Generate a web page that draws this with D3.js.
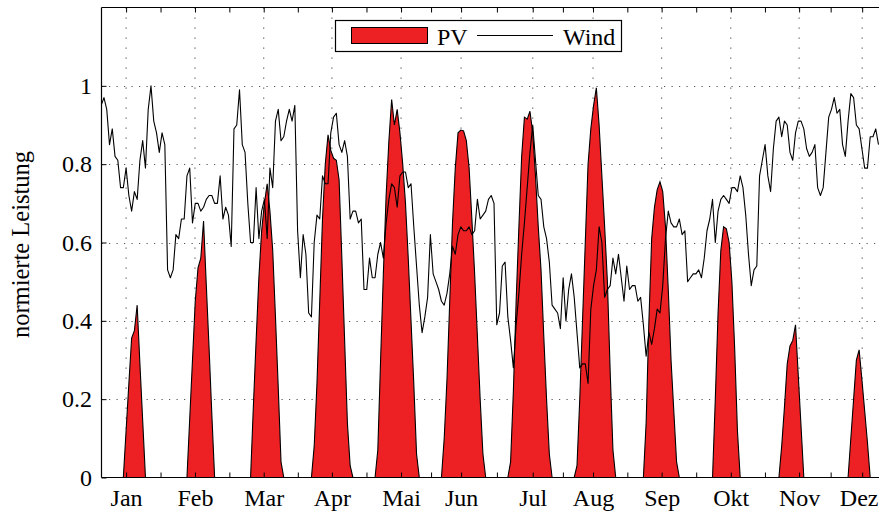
<!DOCTYPE html>
<html><head><meta charset="utf-8">
<script src="https://cdn.jsdelivr.net/npm/d3@7"></script>
<style>
body{margin:0;background:#fff;}
svg{display:block;}
text{font-family:"Liberation Serif","Times New Roman",serif;fill:#000;}
</style>
</head><body>
<svg id="chart" width="879" height="512"></svg>
<script>
// ---- data ----
const months = ["Jan","Feb","Mar","Apr","Mai","Jun","Jul","Aug","Sep","Okt","Nov","Dez"];
const monthTicks = [9, 33.9, 58.75, 83.4, 108.4, 130.1, 156, 177.8, 202.6, 227.6, 252.3, 275.1];
const yTicks = [0, 0.2, 0.4, 0.6, 0.8, 1];
const yTickLabels = ["0", "0.2", "0.4", "0.6", "0.8", "1"];
const yGrid = [0.2, 0.4, 0.6, 0.8, 1];

const wind = [
0.95,0.97,0.94,0.85,0.89,0.82,0.81,0.74,0.74,0.79,0.72,0.68,0.73,0.71,0.81,0.86,0.79,0.94,1.00,0.91,
0.88,0.83,0.88,0.85,0.53,0.51,0.53,0.62,0.61,0.66,0.66,0.77,0.79,0.65,0.70,0.70,0.68,0.69,0.71,0.72,
0.72,0.70,0.70,0.77,0.66,0.69,0.67,0.59,0.89,0.90,0.99,0.85,0.83,0.70,0.60,0.60,0.74,0.61,0.68,0.71,
0.61,0.79,0.74,0.91,0.94,0.86,0.87,0.91,0.94,0.91,0.95,0.63,0.51,0.62,0.57,0.42,0.41,0.60,0.67,0.66,
0.77,0.75,0.75,0.88,0.92,0.93,0.85,0.83,0.86,0.82,0.66,0.68,0.68,0.65,0.66,0.48,0.48,0.56,0.51,0.51,
0.57,0.60,0.56,0.65,0.71,0.75,0.74,0.69,0.77,0.78,0.78,0.74,0.75,0.64,0.54,0.44,0.37,0.41,0.46,0.62,
0.52,0.50,0.48,0.45,0.44,0.47,0.52,0.59,0.57,0.62,0.64,0.63,0.63,0.64,0.62,0.63,0.71,0.66,0.67,0.68,
0.71,0.72,0.70,0.39,0.42,0.54,0.55,0.41,0.35,0.28,0.39,0.47,0.57,0.65,0.74,0.83,0.90,0.81,0.72,0.71,
0.64,0.61,0.55,0.44,0.43,0.42,0.38,0.51,0.40,0.48,0.52,0.46,0.37,0.28,0.29,0.29,0.24,0.43,0.49,0.53,
0.64,0.60,0.46,0.48,0.49,0.56,0.52,0.57,0.51,0.45,0.54,0.48,0.49,0.49,0.45,0.46,0.39,0.31,0.37,0.34,
0.38,0.43,0.42,0.49,0.61,0.68,0.65,0.64,0.64,0.66,0.62,0.63,0.50,0.51,0.52,0.52,0.53,0.51,0.56,0.63,
0.66,0.71,0.60,0.68,0.71,0.72,0.71,0.70,0.74,0.74,0.73,0.77,0.74,0.67,0.57,0.49,0.53,0.54,0.77,0.81,
0.85,0.77,0.73,0.84,0.91,0.92,0.87,0.91,0.90,0.83,0.81,0.88,0.91,0.91,0.89,0.84,0.82,0.83,0.85,0.74,
0.72,0.74,0.83,0.92,0.94,0.97,0.93,0.94,0.85,0.82,0.91,0.98,0.97,0.90,0.89,0.84,0.79,0.79,0.87,0.87,
0.89,0.85
];

const pvStart = [8, 31, 54, 76, 99, 123, 147, 171, 196, 221, 245, 270];
const pvJan = [0, 0.12, 0.24, 0.356, 0.375, 0.44, 0.29, 0.145, 0];
const pvFeb = [0, 0.15, 0.3, 0.45, 0.535, 0.56, 0.655, 0.49, 0.33, 0.16, 0];
const pvMar = [0, 0.18, 0.35, 0.51, 0.63, 0.70, 0.75, 0.68, 0.58, 0.41, 0.23, 0.04, 0];
const pvApr = [0, 0.08, 0.24, 0.45, 0.66, 0.8, 0.875, 0.835, 0.815, 0.81, 0.76, 0.56, 0.35, 0.14, 0.03, 0];
const pvMai = [0, 0.07, 0.30, 0.52, 0.72, 0.86, 0.965, 0.90, 0.94, 0.88, 0.80, 0.70, 0.56, 0.40, 0.24, 0.06, 0];
const pvJun = [0, 0.1, 0.25, 0.45, 0.65, 0.79, 0.88, 0.887, 0.885, 0.86, 0.79, 0.66, 0.52, 0.36, 0.2, 0.06, 0];
const pvJul = [0, 0.04, 0.22, 0.45, 0.64, 0.82, 0.92, 0.915, 0.935, 0.88, 0.77, 0.64, 0.53, 0.36, 0.2, 0.06, 0];
const pvAug = [0, 0.03, 0.2, 0.4, 0.6, 0.8, 0.89, 0.95, 0.995, 0.9, 0.77, 0.64, 0.5, 0.27, 0.07, 0];
const pvSep = [0, 0.14, 0.4, 0.61, 0.69, 0.735, 0.755, 0.73, 0.64, 0.48, 0.3, 0.17, 0.04, 0];
const pvOkt = [0, 0.2, 0.42, 0.58, 0.64, 0.635, 0.6, 0.5, 0.33, 0.12, 0];
const pvNov = [0, 0.08, 0.18, 0.29, 0.336, 0.35, 0.39, 0.26, 0.13, 0];
const pvDez = [0, 0.1, 0.2, 0.3, 0.326, 0.25, 0.17, 0.09, 0];
const pvProfiles = [pvJan, pvFeb, pvMar, pvApr, pvMai, pvJun, pvJul, pvAug, pvSep, pvOkt, pvNov, pvDez];

(function(){
// ---- layout ----
const W = 879;
const pLeft = 101.5, pRight = 879, pTop = 7.5, pBottom = 477.5;
const x = d3.scaleLinear().domain([0, 281]).range([101.2, 878.5]);
const y = d3.scaleLinear().domain([0, 1.2]).range([pBottom, pTop]);
const svg = d3.select("#chart");
const red = "#ed2024";

svg.append("defs").append("clipPath").attr("id","plotclip")
  .append("rect").attr("x", pLeft).attr("y", pTop).attr("width", pRight-pLeft).attr("height", pBottom-pTop);

// grid
const grid = svg.append("g").attr("stroke","#555").attr("stroke-width",1.1);
grid.selectAll("line.h").data(yGrid).join("line").attr("class","h")
  .attr("x1", pLeft).attr("x2", pRight).attr("y1", d=>Math.round(y(d))+0.5).attr("y2", d=>Math.round(y(d))+0.5)
  .attr("stroke-dasharray","1.2,6.3");
grid.selectAll("line.v").data(monthTicks).join("line").attr("class","v")
  .attr("x1", d=>x(d)).attr("x2", d=>x(d)).attr("y1", pTop).attr("y2", pBottom)
  .attr("stroke-dasharray","1.2,8.8");

// PV areas
const plot = svg.append("g").attr("clip-path","url(#plotclip)");
const area = d3.area().x(d=>x(d[0])).y0(y(0)).y1(d=>y(d[1]));
const line = d3.line().x(d=>x(d[0])).y(d=>y(d[1]));
pvProfiles.forEach((prof, k) => {
  const pts = prof.map((v, j) => [pvStart[k] + j, v]);
  plot.append("path").attr("d", area(pts)).attr("fill", red).attr("stroke","none");
  plot.append("path").attr("d", line(pts)).attr("fill","none").attr("stroke","#000").attr("stroke-width",1.1);
});

// wind line
plot.append("path").datum(wind.map((v,i)=>[i,v]))
  .attr("d", line).attr("fill","none").attr("stroke","#000").attr("stroke-width",1.1)
  .attr("stroke-linejoin","round");

// axes (ticks)
const minorTicks = d3.pairs(monthTicks).map(p => (p[0]+p[1])/2);
const xAxisB = d3.axisBottom(x).tickValues(monthTicks).tickFormat((d,i)=>months[i]).tickSize(-5).tickPadding(11.5);
const gB = svg.append("g").attr("transform",`translate(0,${pBottom})`).call(xAxisB);
const gBm = svg.append("g").attr("transform",`translate(0,${pBottom})`).call(d3.axisBottom(x).tickValues(minorTicks).tickFormat("").tickSize(-5));
const gT = svg.append("g").attr("transform",`translate(0,${pTop})`).call(d3.axisTop(x).tickValues(monthTicks).tickFormat("").tickSize(-5));
const gTm = svg.append("g").attr("transform",`translate(0,${pTop})`).call(d3.axisTop(x).tickValues(minorTicks).tickFormat("").tickSize(-5));
const yAxis = d3.axisLeft(y).tickValues(yTicks).tickFormat((d,i)=>yTickLabels[i]).tickSize(-5).tickPadding(9.5);
const gL = svg.append("g").attr("transform",`translate(${pLeft},0)`).call(yAxis);
[gB,gBm,gT,gTm,gL].forEach(g=>{
  g.select(".domain").remove();
  g.selectAll(".tick line").attr("stroke","#000").attr("stroke-width",1);
  g.selectAll("text").attr("font-size",24).attr("font-family",'"Liberation Serif",serif').attr("fill","#000");
});
// keep the last month label inside the page
gB.selectAll(".tick text").each(function(){
  const b = this.getBBox();
  const m = this.parentNode.transform.baseVal.consolidate().matrix.e;
  const over = m + b.x + b.width - (W - 0.5);
  if (over > 0) d3.select(this).attr("x", -over);
});

// frame
const frame = svg.append("g").attr("stroke","#000").attr("stroke-width",1.2);
frame.append("line").attr("x1",pLeft).attr("x2",pLeft).attr("y1",pTop).attr("y2",pBottom);
frame.append("line").attr("x1",pLeft).attr("x2",pRight).attr("y1",pTop).attr("y2",pTop);
frame.append("line").attr("x1",pLeft).attr("x2",pRight).attr("y1",pBottom).attr("y2",pBottom);

// y label
svg.append("text").attr("transform",`translate(29,${(pTop+pBottom)/2+2}) rotate(-90)`)
  .attr("text-anchor","middle").attr("font-size",24.5).text("normierte Leistung");

// legend
const lg = svg.append("g");
lg.append("rect").attr("x",335.5).attr("y",20.5).attr("width",286).attr("height",31)
  .attr("fill","#fff").attr("stroke","#000").attr("stroke-width",1.2);
lg.append("rect").attr("x",351.5).attr("y",27.5).attr("width",76).attr("height",16)
  .attr("fill",red).attr("stroke","#000").attr("stroke-width",1);
lg.append("text").attr("x",437).attr("y",44.5).attr("font-size",24).text("PV");
lg.append("line").attr("x1",477).attr("x2",553).attr("y1",35.5).attr("y2",35.5).attr("stroke","#000").attr("stroke-width",1);
lg.append("text").attr("x",563).attr("y",44.5).attr("font-size",24).text("Wind");
})();
</script>
</body></html>
